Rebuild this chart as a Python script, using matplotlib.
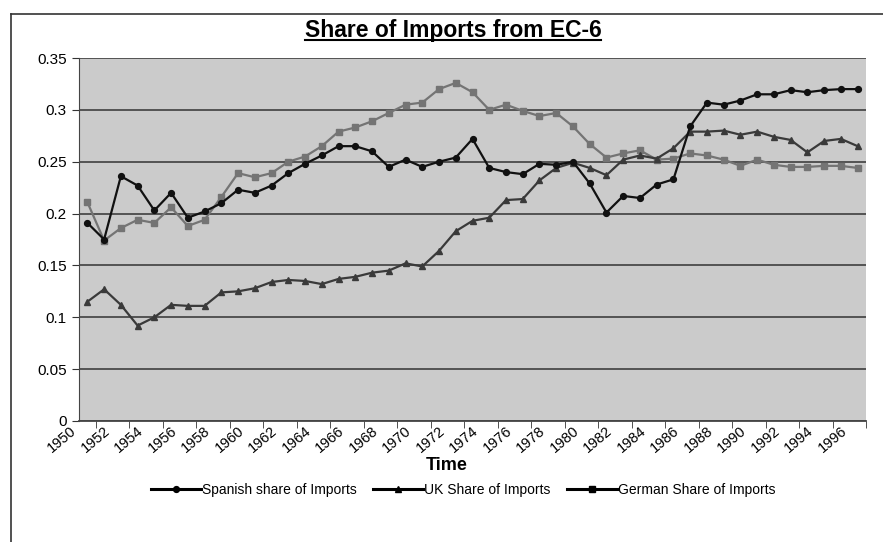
import numpy as np
import matplotlib
matplotlib.use('Agg')
import matplotlib.pyplot as plt
from matplotlib.lines import Line2D
from matplotlib.ticker import FuncFormatter

years = list(range(1950, 1997))

spanish = [0.191, 0.175, 0.236, 0.227, 0.203, 0.220, 0.196, 0.202, 0.210, 0.223,
           0.220, 0.227, 0.239, 0.248, 0.256, 0.265, 0.265, 0.260, 0.245, 0.252,
           0.245, 0.250, 0.254, 0.272, 0.244, 0.240, 0.238, 0.248, 0.247, 0.250,
           0.229, 0.201, 0.217, 0.215, 0.228, 0.233, 0.284, 0.307, 0.305, 0.309,
           0.315, 0.315, 0.319, 0.317, 0.319, 0.320, 0.320]

uk = [0.115, 0.127, 0.112, 0.092, 0.100, 0.112, 0.111, 0.111, 0.124, 0.125,
      0.128, 0.134, 0.136, 0.135, 0.132, 0.137, 0.139, 0.143, 0.145, 0.152,
      0.149, 0.164, 0.183, 0.193, 0.196, 0.213, 0.214, 0.232, 0.244, 0.249,
      0.244, 0.237, 0.252, 0.256, 0.253, 0.263, 0.279, 0.279, 0.280, 0.276,
      0.279, 0.274, 0.271, 0.259, 0.270, 0.272, 0.265]

german = [0.211, 0.174, 0.186, 0.194, 0.191, 0.206, 0.188, 0.194, 0.216, 0.239,
          0.235, 0.239, 0.250, 0.255, 0.265, 0.279, 0.283, 0.289, 0.297, 0.305,
          0.307, 0.320, 0.326, 0.317, 0.300, 0.305, 0.299, 0.294, 0.297, 0.284,
          0.267, 0.254, 0.258, 0.261, 0.252, 0.253, 0.258, 0.256, 0.252, 0.246,
          0.252, 0.247, 0.245, 0.245, 0.246, 0.246, 0.244]

series_names = ['Spanish share of Imports', 'UK Share of Imports', 'German Share of Imports']


def draw():
    plt.rcParams['font.family'] = ['Liberation Sans', 'DejaVu Sans']
    fig = plt.figure(figsize=(8.83, 5.42), dpi=100)
    ax = fig.add_axes([79 / 883, 1 - 421 / 542, 787 / 883, 363 / 542])
    ax.set_facecolor('#cbcbcb')

    x = np.arange(len(years))
    ax.plot(x, spanish, color='#111111', lw=1.6, marker='o', ms=4.2, label=series_names[0], zorder=4)
    ax.plot(x, uk, color='#3a3a3a', lw=1.6, marker='^', ms=4.8, label=series_names[1], zorder=3)
    ax.plot(x, german, color='#747474', lw=1.6, marker='s', ms=4.8, label=series_names[2], zorder=2)

    ax.set_yticks(np.arange(0, 0.351, 0.05))
    ax.yaxis.set_major_formatter(FuncFormatter(lambda v, p: '%g' % round(v, 2)))
    ax.grid(axis='y', color='#333333', lw=1.1)
    ax.set_axisbelow(True)

    # labels hang from the left edge of their category slot, as in the Excel original
    ax.set_xticks(x[::2] - 0.5)
    ax.set_xticklabels([str(y) for y in years[::2]], rotation=40, ha='right', va='bottom',
                       rotation_mode='anchor', fontsize=10.5)
    ax.set_xticks(np.arange(-0.5, len(years), 1), minor=True)
    ax.tick_params(axis='x', which='major', length=0, pad=9.5)
    ax.tick_params(axis='x', which='minor', length=5, direction='out', color='#333333')
    ax.tick_params(axis='y', length=5, direction='out', labelsize=11, pad=4, color='#333333')
    ax.set_ylim(0, 0.35)
    ax.set_xlim(-0.5, len(years) - 0.5)

    for s in ['top', 'right']:
        ax.spines[s].set_visible(False)
    ax.spines['left'].set_color('#444444')
    ax.spines['bottom'].set_color('#444444')
    ax.spines['bottom'].set_linewidth(1.3)

    title = fig.text(453 / 883, 1 - 30 / 542, 'Share of Imports from EC-6', ha='center', va='center',
                     fontsize=16.5, fontweight='bold')
    fig.text(447 / 883, 1 - 465 / 542, 'Time', ha='center', va='center', fontsize=13, fontweight='bold')

    leg = fig.legend(loc='center', bbox_to_anchor=(463 / 883, 1 - 490 / 542), ncol=3, frameon=False,
                     fontsize=10, handlelength=3.6, columnspacing=1.2, handletextpad=0.05)
    for h in leg.legend_handles:
        h.set_color('black')
        h.set_markerfacecolor('black')
        h.set_markeredgecolor('black')
        h.set_linewidth(2.2)

    # underline for the title
    fig.canvas.draw()
    bb = title.get_window_extent().transformed(fig.transFigure.inverted())
    fig.add_artist(Line2D([bb.x0, bb.x1], [bb.y0 + 0.002, bb.y0 + 0.002], color='black', lw=1.5))

    # chart border
    fig.add_artist(Line2D([11 / 883, 11 / 883], [0, 1 - 14 / 542], color='#333333', lw=1.2))
    fig.add_artist(Line2D([11 / 883, 1], [1 - 14 / 542, 1 - 14 / 542], color='#333333', lw=1.2))

    fig.savefig('out.png', dpi=100)


if __name__ == "__main__":
    draw()
